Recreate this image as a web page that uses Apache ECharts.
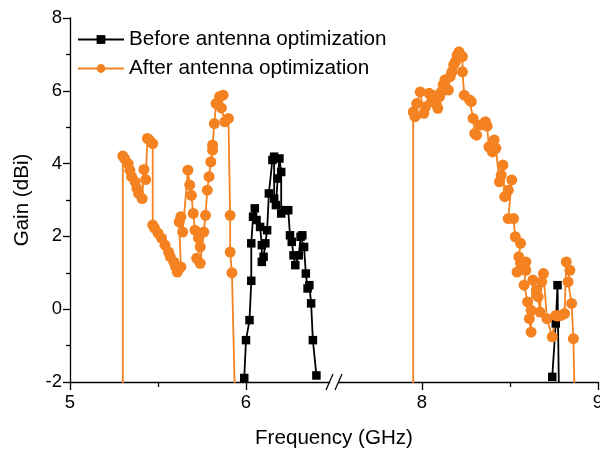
<!DOCTYPE html>
<html><head><meta charset="utf-8">
<script src="https://cdn.jsdelivr.net/npm/echarts@6/dist/echarts.min.js"></script>
<style>html,body{margin:0;padding:0;background:#fff}#c{width:600px;height:454px}</style>
</head><body><div id="c"></div>
<script>
// ---- data (frequency in GHz, gain in dBi) ----
const beforeFreq1 = [5.99,6.00,6.02,6.03,6.03,6.04,6.05,6.06,6.08,6.09,6.09,6.10,6.11,6.12,6.13,6.15,6.16,6.16,6.17,6.18,6.19,6.20,6.20,6.22,6.24,6.25,6.26,6.27,6.28,6.30,6.31,6.32,6.33,6.34,6.35,6.36,6.37,6.38,6.40];
const beforeGain1 = [-1.89,-0.85,-0.30,0.78,1.81,2.54,2.77,2.45,2.26,1.76,1.30,1.44,1.81,2.17,3.18,4.10,4.19,3.04,2.86,3.59,4.14,3.77,2.63,2.72,2.72,2.03,1.85,1.48,1.21,1.48,1.99,2.03,1.71,0.98,0.57,0.66,0.16,-0.85,-1.82];
const beforeFreq2 = [8.74,8.76,8.77,8.78];
const beforeGain2 = [-1.86,-0.39,0.66,-3];

const afterFreq1 = [5.30,5.30,5.31,5.33,5.34,5.35,5.37,5.38,5.39,5.41,5.42,5.43,5.44,5.45,5.47,5.47,5.48,5.50,5.52,5.54,5.56,5.57,5.59,5.60,5.61,5.63,5.62,5.63,5.64,5.67,5.68,5.69,5.70,5.71,5.73,5.74,5.72,5.74,5.76,5.77,5.78,5.79,5.80,5.81,5.81,5.82,5.83,5.85,5.87,5.86,5.88,5.90,5.91,5.91,5.92,5.94];
const afterGain1 = [-3,4.21,4.14,4.00,3.82,3.64,3.50,3.32,3.18,3.04,3.84,3.56,4.69,4.65,4.55,2.31,2.23,2.09,1.95,1.76,1.57,1.44,1.30,1.16,1.02,1.16,2.40,2.54,2.12,3.82,3.41,3.13,2.63,2.17,1.95,1.71,1.40,1.26,2.12,2.58,3.27,3.64,4.05,4.37,4.51,5.10,5.65,5.84,5.88,5.53,5.15,5.24,2.58,1.57,1.00,-3];
const afterFreq2 = [7.95,7.95,7.96,7.97,7.99,8.01,8.02,8.04,8.06,8.06,8.08,8.09,8.10,8.11,8.12,8.13,8.15,8.16,8.17,8.18,8.19,8.20,8.21,8.23,8.23,8.24,8.27,8.28,8.29,8.30,8.31,8.33,8.36,8.37,8.38,8.39,8.40,8.41,8.42,8.44,8.45,8.46,8.47,8.49,8.51,8.49,8.52,8.53,8.56,8.55,8.56,8.59,8.54,8.59,8.58,8.60,8.61,8.62,8.62,8.63,8.65,8.66,8.67,8.68,8.69,8.71,8.74,8.76,8.77,8.79,8.81,8.82,8.84,8.83,8.85,8.86,8.87];
const afterGain2 = [-3,5.42,5.29,5.65,5.97,5.38,5.56,5.93,5.70,5.88,5.65,5.52,5.84,5.97,6.16,6.30,6.02,6.39,6.52,6.71,6.80,6.98,7.07,6.94,6.52,5.88,5.75,5.70,5.24,4.83,4.78,5.06,5.15,5.03,4.46,4.46,4.32,4.65,4.42,3.50,3.68,3.96,3.09,3.27,3.55,2.49,2.49,1.99,1.81,1.44,1.26,1.30,1.02,1.07,0.66,0.20,-0.26,-0.63,-0.03,0.80,0.52,0.34,-0.08,0.75,0.98,-0.26,-0.76,-0.17,-0.19,-0.17,-0.12,1.30,1.07,0.75,0.16,-0.81,-3];

const xTickValues = [5, 6, 8, 9];
const xMinorTickValues = [5.5, 8.5];
const yTickValues = [-2, 0, 2, 4, 6, 8];
const seriesNames = ['Before antenna optimization', 'After antenna optimization'];

// ---- broken axis: 6.5–7.5 GHz removed ----
const BREAK_LO = 6.5, BREAK_HI = 7.5, GAP = BREAK_HI - BREAK_LO;
const toAxis = f => (f >= BREAK_HI ? f - GAP : f);
const fromAxis = v => (v > BREAK_LO ? v + GAP : v);

function pairs(fs, gs) { return fs.map((f, i) => [toAxis(f), gs[i]]); }
const beforeData = pairs(beforeFreq1, beforeGain1).concat([[null, null]], pairs(beforeFreq2, beforeGain2));
const afterData = pairs(afterFreq1, afterGain1).concat([[null, null]], pairs(afterFreq2, afterGain2));

const FONT = 'Liberation Sans, Arial, sans-serif';
const ORANGE = '#F58220';

const chart = echarts.init(document.getElementById('c'), null, {renderer: 'canvas'});
const axisMin = toAxis(xTickValues[0]), axisMax = toAxis(xTickValues[xTickValues.length - 1]);

chart.setOption({
  animation: false,
  backgroundColor: '#fff',
  grid: {left: 70, right: 2, top: 18, bottom: 72, containLabel: false, outerBoundsMode: 'none'},
  legend: {
    left: 72, top: 24, orient: 'vertical', itemWidth: 46, itemHeight: 11, itemGap: 8,
    textStyle: {fontFamily: FONT, fontSize: 20.7, color: '#000'},
    data: seriesNames
  },
  xAxis: [{
    type: 'value', min: axisMin, max: axisMax, interval: 1,
    name: 'Frequency (GHz)', nameLocation: 'middle', nameGap: 46,
    nameTextStyle: {fontFamily: FONT, fontSize: 20.6, color: '#000'},
    axisLine: {show: true, onZero: false, lineStyle: {color: '#000', width: 1.3}},
    axisTick: {show: true, inside: false, length: 8, lineStyle: {color: '#000', width: 1.3}},
    axisLabel: {fontFamily: FONT, fontSize: 18.5, color: '#000', margin: 11,
      formatter: v => String(Math.round(fromAxis(v)))},
    splitLine: {show: false}
  }, {
    type: 'value', min: axisMin, max: axisMax, position: 'bottom', gridIndex: 0,
    axisLine: {show: false, onZero: false},
    axisTick: {show: true, inside: false, length: 5, customValues: xMinorTickValues.map(toAxis), lineStyle: {color: '#000', width: 1.3}},
    axisLabel: {show: false}, splitLine: {show: false}
  }],
  yAxis: {
    type: 'value', min: yTickValues[0], max: yTickValues[yTickValues.length - 1], interval: 2,
    name: 'Gain (dBi)', nameLocation: 'middle', nameGap: 37,
    nameTextStyle: {fontFamily: FONT, fontSize: 20.6, color: '#000'},
    axisLine: {show: true, onZero: false, lineStyle: {color: '#000', width: 1.3}},
    axisTick: {show: true, inside: false, length: 7, lineStyle: {color: '#000', width: 1.3}},
    minorTick: {show: true, splitNumber: 2, length: 4, lineStyle: {color: '#000', width: 1.3}},
    axisLabel: {fontFamily: FONT, fontSize: 18.5, color: '#000', margin: 8},
    splitLine: {show: false}
  },
  series: [{
    name: seriesNames[0], type: 'line', data: beforeData, xAxisIndex: 0,
    symbol: 'rect', symbolSize: 8.5, connectNulls: false, clip: true,
    lineStyle: {color: '#000', width: 1.8}, itemStyle: {color: '#000'}
  }, {
    name: seriesNames[1], type: 'line', data: afterData, xAxisIndex: 0,
    symbol: 'circle', symbolSize: 11, connectNulls: false, clip: true,
    lineStyle: {color: ORANGE, width: 1.8}, itemStyle: {color: ORANGE}
  }]
});

// break mark "//" on the x axis
const p = chart.convertToPixel({xAxisIndex: 0, yAxisIndex: 0}, [BREAK_LO, yTickValues[0]]);
chart.setOption({
  graphic: [
    {type: 'rect', shape: {x: p[0] - 4, y: p[1] - 2, width: 8, height: 4}, style: {fill: '#fff'}, z: 100},
    {type: 'line', shape: {x1: p[0] - 8, y1: p[1] + 8, x2: p[0] - 1, y2: p[1] - 8}, style: {stroke: '#000', lineWidth: 1.3}, z: 101},
    {type: 'line', shape: {x1: p[0] + 1, y1: p[1] + 8, x2: p[0] + 8, y2: p[1] - 8}, style: {stroke: '#000', lineWidth: 1.3}, z: 101}
  ]
});
</script>
</body></html>
